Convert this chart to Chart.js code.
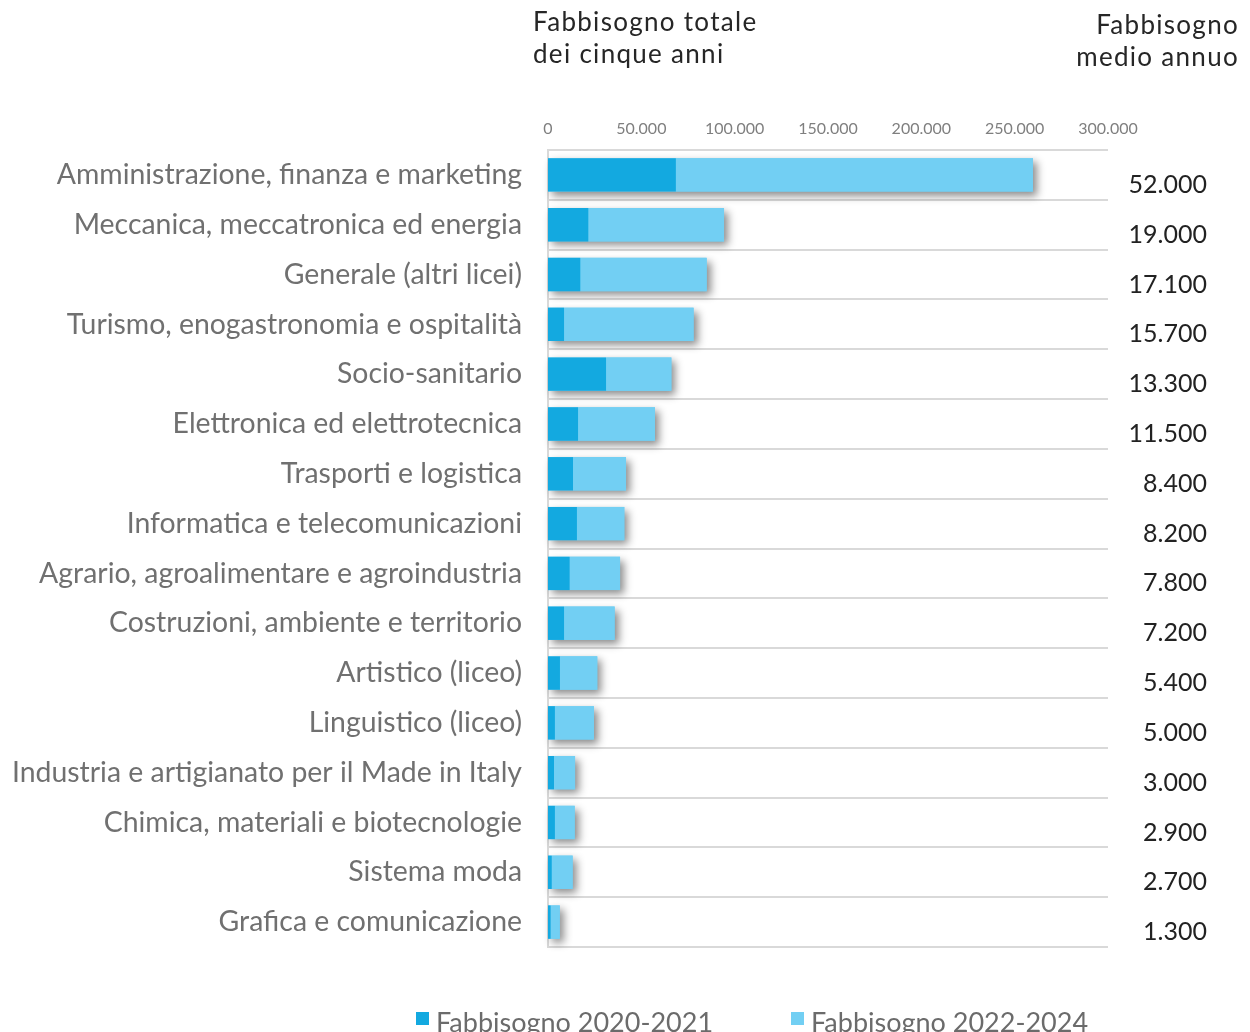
<!DOCTYPE html>
<html>
<head>
<meta charset="utf-8">
<title>Fabbisogno per indirizzo</title>
<script src="https://cdn.jsdelivr.net/npm/chart.js@4.4.1/dist/chart.umd.min.js"></script>
<style>
  html, body { margin: 0; padding: 0; background: #fff; }
  #wrap { position: relative; width: 1250px; height: 1032px; }
</style>
</head>
<body>
<div id="wrap"><canvas id="myChart" width="1250" height="1032"></canvas></div>
<script>
// categories (top to bottom)
const categories = [
    'Amministrazione, finanza e marketing',
    'Meccanica, meccatronica ed energia',
    'Generale (altri licei)',
    'Turismo, enogastronomia e ospitalità',
    'Socio-sanitario',
    'Elettronica ed elettrotecnica',
    'Trasporti e logistica',
    'Informatica e telecomunicazioni',
    'Agrario, agroalimentare e agroindustria',
    'Costruzioni, ambiente e territorio',
    'Artistico (liceo)',
    'Linguistico (liceo)',
    'Industria e artigianato per il Made in Italy',
    'Chimica, materiali e biotecnologie',
    'Sistema moda',
    'Grafica e comunicazione'
];

// Fabbisogno 2020-2021
const need2020_2021 = [68500, 21600, 17300, 8600, 31100, 16100, 13400, 15500, 11600, 8600, 6400, 3700, 3200, 3700, 2000, 1400];
// Fabbisogno 2022-2024
const need2022_2024 = [191300, 72700, 67700, 69400, 35000, 41200, 28400, 25400, 27000, 27100, 20000, 20900, 11300, 10600, 11200, 4900];
// Fabbisogno medio annuo (right column)
const avgYearly = ['52.000', '19.000', '17.100', '15.700', '13.300', '11.500', '8.400', '8.200', '7.800', '7.200', '5.400', '5.000', '3.000', '2.900', '2.700', '1.300'];
// x axis ticks
const xTicks = [0, 50000, 100000, 150000, 200000, 250000, 300000];

const seriesNames = ['Fabbisogno 2020-2021', 'Fabbisogno 2022-2024'];
const seriesColors = ['#13a9e0', '#72cff3'];

const FONT = 'Lato, "Open Sans", sans-serif';

function fmt(v) {
    return v.toString().replace(/\B(?=(\d{3})+(?!\d))/g, '.');
}

// one soft drop shadow behind each whole stacked bar
const barShadow = {
    id: 'barShadow',
    beforeDatasetsDraw(chart) {
        const ctx = chart.ctx;
        const first = chart.getDatasetMeta(0).data;
        const last = chart.getDatasetMeta(1).data;
        ctx.save();
        ctx.shadowColor = 'rgba(0, 0, 0, 0.45)';
        ctx.shadowBlur = 8;
        ctx.shadowOffsetX = 4;
        ctx.shadowOffsetY = 4;
        ctx.fillStyle = seriesColors[1];
        first.forEach((bar, i) => {
            const a = bar.getProps(['x', 'y', 'base', 'height'], true);
            const b = last[i].getProps(['x'], true);
            ctx.fillRect(a.base, a.y - a.height / 2, b.x - a.base, a.height);
        });
        ctx.restore();
    }
};

// headers, right column values and legend
const extras = {
    id: 'extras',
    afterDraw(chart) {
        const ctx = chart.ctx;
        const yScale = chart.scales.y;
        ctx.save();

        ctx.fillStyle = '#262626';
        ctx.font = '26px ' + FONT;
        ctx.letterSpacing = '1.3px';
        ctx.textBaseline = 'middle';
        ctx.textAlign = 'left';
        ctx.fillText('Fabbisogno totale', 533, 23);
        ctx.fillText('dei cinque anni', 533, 55);
        ctx.textAlign = 'right';
        ctx.fillText('Fabbisogno', 1239, 26);
        ctx.fillText('medio annuo', 1239, 58);
        ctx.letterSpacing = '0px';

        ctx.font = '25px ' + FONT;
        ctx.fillStyle = '#222';
        avgYearly.forEach((v, i) => {
            ctx.fillText(v, 1207, yScale.getPixelForValue(i) + 10);
        });

        // legend
        ctx.font = '27px ' + FONT;
        ctx.textAlign = 'left';
        ctx.textBaseline = 'alphabetic';
        const lx = [416, 791];
        seriesNames.forEach((name, i) => {
            ctx.fillStyle = seriesColors[i];
            ctx.fillRect(lx[i], 1012, 13, 13);
            ctx.fillStyle = '#6b6b6b';
            ctx.fillText(name, lx[i] + 20, 1032);
        });
        ctx.restore();
    }
};

function buildChart() {
    const ctx = document.getElementById('myChart').getContext('2d');
    return new Chart(ctx, {
        type: 'bar',
        data: {
            labels: categories,
            datasets: [{
                label: seriesNames[0],
                data: need2020_2021,
                backgroundColor: seriesColors[0],
                borderWidth: 0
            }, {
                label: seriesNames[1],
                data: need2022_2024,
                backgroundColor: seriesColors[1],
                borderWidth: 0
            }]
        },
        options: {
            indexAxis: 'y',
            responsive: false,
            animation: false,
            maintainAspectRatio: false,
            categoryPercentage: 1,
            barPercentage: 0.67,
            layout: { padding: { left: 0, right: 142, top: 0, bottom: 85 } },
            plugins: {
                legend: { display: false },
                tooltip: { enabled: false }
            },
            scales: {
                x: {
                    position: 'top',
                    stacked: true,
                    min: 0,
                    max: 300000,
                    afterBuildTicks: (scale) => {
                        scale.ticks = xTicks.map(v => ({ value: v }));
                    },
                    grid: { display: false },
                    border: { display: false },
                    ticks: {
                        padding: 4,
                        color: '#7f7f7f',
                        font: { family: FONT, size: 16 },
                        maxRotation: 0,
                        callback: (v) => fmt(v)
                    },
                    afterFit: (scale) => { scale.height = 150; }
                },
                y: {
                    stacked: true,
                    grid: {
                        color: '#d9d9d9',
                        lineWidth: 2,
                        drawTicks: false,
                        offset: true
                    },
                    border: { color: '#d9d9d9', width: 2 },
                    ticks: {
                        padding: 26,
                        color: '#707070',
                        font: { family: FONT, size: 28.4 },
                        autoSkip: false
                    },
                    afterFit: (scale) => { scale.width = 548; }
                }
            }
        },
        plugins: [barShadow, extras]
    });
}

buildChart();
</script>
</body>
</html>
